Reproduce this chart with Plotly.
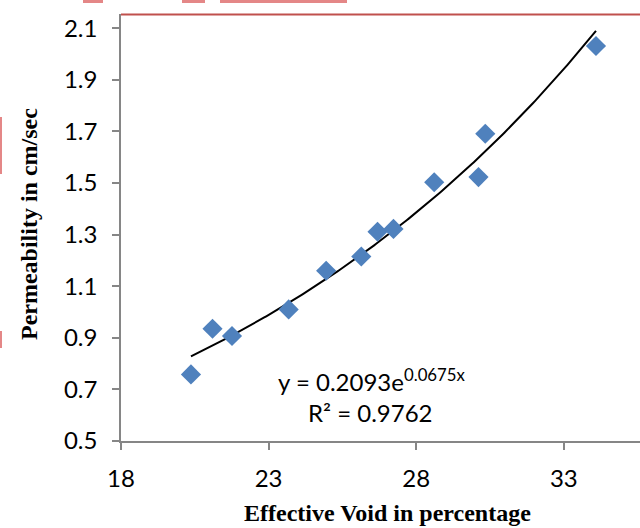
import numpy as np
import plotly.graph_objects as go

# Data
void_pct = [20.37, 21.10, 21.76, 23.68, 24.95, 26.14, 26.69, 27.23, 28.61, 30.11, 30.34, 34.09]
permeability = [0.758, 0.935, 0.907, 1.010, 1.160, 1.215, 1.311, 1.322, 1.503, 1.523, 1.691, 2.031]
trend_a = 0.2093
trend_b = 0.0675
r_squared = 0.9762
x_ticks = [18, 23, 28, 33]
y_ticks = [0.5, 0.7, 0.9, 1.1, 1.3, 1.5, 1.7, 1.9, 2.1]

W, H = 640, 528
ML, MR, MT, MB = 121, 0, 14, 87
PW = W - ML - MR
PH = H - MT - MB

def px(xp):
    return (xp - ML) / PW

def py(yp):
    return (H - MB - yp) / PH

tx = np.linspace(min(void_pct), max(void_pct), 200)
ty = trend_a * np.exp(trend_b * tx)

fig = go.Figure()
fig.add_trace(go.Scatter(x=tx, y=ty, mode="lines",
                         line=dict(color="black", width=2), hoverinfo="skip"))
fig.add_trace(go.Scatter(x=void_pct, y=permeability, mode="markers",
                         marker=dict(symbol="diamond", size=15.5, color="#4f81bd",
                                     line=dict(width=0))))

tick_font = dict(family="Lato", size=24, color="black")
fig.update_layout(
    width=W, height=H,
    margin=dict(l=ML, r=MR, t=MT, b=MB),
    paper_bgcolor="white", plot_bgcolor="white",
    showlegend=False,
    xaxis=dict(range=[18, 18 + PW / 29.52], tickvals=x_ticks, ticktext=[str(v) for v in x_ticks],
               showgrid=False, zeroline=False, showline=True, linecolor="#868686", linewidth=1.5,
               ticks="outside", ticklen=7, tickcolor="#868686", tickwidth=1.5,
               ticklabelstandoff=8, tickfont=tick_font),
    yaxis=dict(range=[0.5, 0.5 + PH / 258.0], tickvals=y_ticks, ticktext=[f"{v:.1f}" for v in y_ticks],
               showgrid=False, zeroline=False, showline=True, linecolor="#868686", linewidth=1.5,
               ticks="outside", ticklen=7, tickcolor="#868686", tickwidth=1.5,
               ticklabelstandoff=10, tickfont=tick_font),
)

title_font = dict(family="Liberation Serif", size=24, color="black")
fig.add_annotation(text="<b>Effective Void in percentage</b>", xref="paper", yref="paper",
                   x=px(387), y=py(513), xanchor="center", yanchor="middle",
                   showarrow=False, font=title_font)
fig.add_annotation(text="<b>Permeability in cm/sec</b>", xref="paper", yref="paper",
                   x=px(29), y=py(224), xanchor="center", yanchor="middle", textangle=-90,
                   showarrow=False, font=title_font)

eq_font = dict(family="Lato", size=24, color="black")
fig.add_annotation(text=f"y = {trend_a}e<sup>{trend_b}x</sup>", xref="paper", yref="paper",
                   x=px(276), y=py(380), xanchor="left", yanchor="middle",
                   showarrow=False, font=eq_font)
fig.add_annotation(text=f"R² = {r_squared}", xref="paper", yref="paper",
                   x=px(306), y=py(412), xanchor="left", yanchor="middle",
                   showarrow=False, font=eq_font)

# top red border line
fig.add_shape(type="line", xref="paper", yref="paper", x0=0, x1=1, y0=py(14.5), y1=py(14.5),
              line=dict(color="#c0504d", width=2))
# red artifacts at edges
for (x0, x1, y0, y1) in [(83, 103, -2, 3), (182, 205, -2, 3), (220, 347, -2, 3),
                         (-2, 2, 117, 174), (-2, 2, 331, 348)]:
    fig.add_shape(type="rect", xref="paper", yref="paper",
                  x0=px(x0), x1=px(x1), y0=py(y1), y1=py(y0),
                  fillcolor="#e48787", line=dict(width=0), layer="above")

fig.write_html("out.html")
